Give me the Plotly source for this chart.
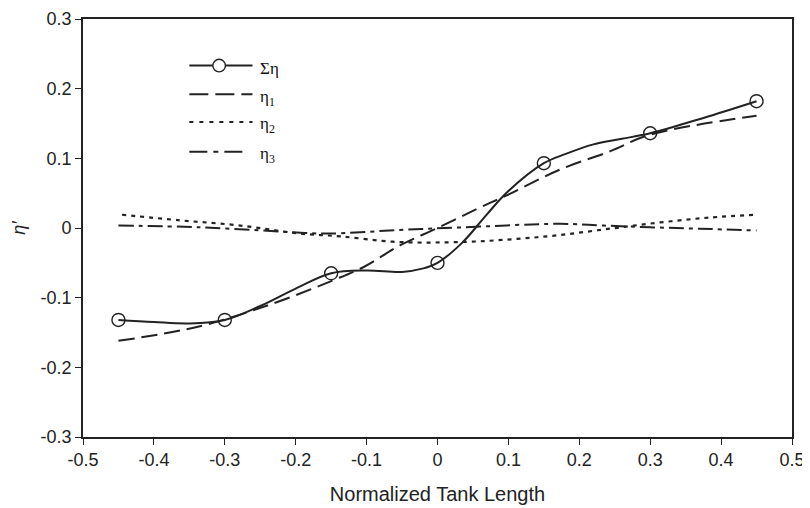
import plotly.graph_objects as go

# ---- data ----
sum_x = [-0.45, -0.40, -0.35, -0.30, -0.25, -0.20, -0.15, -0.10, -0.05, -0.02, 0.0,
         0.035, 0.07, 0.10, 0.15, 0.18, 0.22, 0.26, 0.30, 0.375, 0.45]
sum_y = [-0.132, -0.135, -0.137, -0.132, -0.112, -0.087, -0.065, -0.061, -0.063, -0.058, -0.050,
         -0.021, 0.020, 0.053, 0.093, 0.106, 0.120, 0.128, 0.136, 0.158, 0.182]
mark_x = [-0.45, -0.30, -0.15, 0.0, 0.15, 0.30, 0.45]
mark_y = [-0.132, -0.132, -0.065, -0.050, 0.093, 0.136, 0.182]

eta1_x = [-0.45, -0.335, -0.231, -0.147, -0.104, -0.053, 0.0, 0.055, 0.102, 0.173, 0.243, 0.30, 0.45]
eta1_y = [-0.162, -0.141, -0.108, -0.075, -0.056, -0.025, 0.0, 0.027, 0.049, 0.084, 0.110, 0.134, 0.161]

eta2_x = [-0.445, -0.363, -0.278, -0.194, -0.137, -0.057, 0.0365, 0.107, 0.173, 0.243, 0.314, 0.384, 0.45]
eta2_y = [0.019, 0.011, 0.0035, -0.008, -0.012, -0.020, -0.020, -0.016, -0.010, -0.001, 0.008, 0.015, 0.019]

eta3_x = [-0.45, -0.335, -0.222, -0.156, -0.057, 0.0365, 0.173, 0.234, 0.30, 0.37, 0.45]
eta3_y = [0.0035, 0.001, -0.005, -0.008, -0.003, 0.001, 0.006, 0.0035, 0.001, -0.001, -0.0036]

x_ticks = [-0.5, -0.4, -0.3, -0.2, -0.1, 0, 0.1, 0.2, 0.3, 0.4, 0.5]
x_tick_text = ["-0.5", "-0.4", "-0.3", "-0.2", "-0.1", "0", "0.1", "0.2", "0.3", "0.4", "0.5"]
y_ticks = [-0.3, -0.2, -0.1, 0, 0.1, 0.2, 0.3]
y_tick_text = ["-0.3", "-0.2", "-0.1", "0", "0.1", "0.2", "0.3"]

legend_names = ["Ση", "η<sub>1</sub>", "η<sub>2</sub>", "η<sub>3</sub>"]

INK = "#222222"
D1 = "16px,7px"
D2 = "4px,5px"
D3 = "15px,5px,4px,5px"

fig = go.Figure()
fig.add_trace(go.Scatter(x=eta1_x, y=eta1_y, mode="lines", name="η1",
                         line=dict(color=INK, width=2, dash=D1, shape="spline")))
fig.add_trace(go.Scatter(x=eta2_x, y=eta2_y, mode="lines", name="η2",
                         line=dict(color=INK, width=2.2, dash=D2, shape="spline")))
fig.add_trace(go.Scatter(x=eta3_x, y=eta3_y, mode="lines", name="η3",
                         line=dict(color=INK, width=2, dash=D3, shape="spline")))
fig.add_trace(go.Scatter(x=sum_x, y=sum_y, mode="lines", name="Ση",
                         line=dict(color=INK, width=2, shape="spline")))
fig.add_trace(go.Scatter(x=mark_x, y=mark_y, mode="markers", name="Ση markers",
                         marker=dict(symbol="circle-open", size=13, color=INK,
                                     line=dict(width=1.4, color=INK))))

# ---- manual legend (long line samples like the reference) ----
leg_x0, leg_x1, leg_txt = 0.150, 0.239, 0.247
leg_y = [0.8885, 0.8198, 0.7534, 0.6823]
leg_dash = ["solid", "19px,7px", "4px,6px", "18px,6px,5px,6px"]
for i, name in enumerate(legend_names):
    x1 = leg_x1 if i < 3 else 0.232
    fig.add_shape(type="line", xref="paper", yref="paper",
                  x0=leg_x0, x1=x1, y0=leg_y[i], y1=leg_y[i],
                  line=dict(color=INK, width=2, dash=leg_dash[i]))
    fig.add_annotation(xref="paper", yref="paper", x=leg_txt, y=leg_y[i] - 0.008,
                       text=name, showarrow=False, xanchor="left", yanchor="middle",
                       font=dict(family="Liberation Serif", size=17, color="#111111"))
# legend marker circle for Ση
cx, cy, r = 0.192, leg_y[0], 6.3
fig.add_shape(type="circle", xref="paper", yref="paper",
              x0=-r, y0=-r, x1=r, y1=r, xsizemode="pixel", ysizemode="pixel",
              xanchor=cx, yanchor=cy,
              line=dict(color=INK, width=1.4), fillcolor="white", layer="above")

axis_common = dict(showline=True, mirror=True, linecolor=INK, linewidth=1.6,
                   ticks="outside", ticklen=6, tickwidth=1.2, tickcolor=INK,
                   showgrid=False, zeroline=False, automargin=False,
                   ticklabeloverflow="allow",
                   tickfont=dict(family="Liberation Sans", size=18, color=INK))

# the page body adds an 8px offset; sizes/margins compensate for it
fig.update_layout(
    template="none",
    width=802, height=500,
    margin=dict(l=75, r=18, t=11, b=71, autoexpand=False),
    paper_bgcolor="white", plot_bgcolor="white",
    showlegend=False,
    xaxis=dict(range=[-0.5, 0.5], tickvals=x_ticks, ticktext=x_tick_text,
               title=dict(text="Normalized Tank Length", standoff=18,
                          font=dict(family="Liberation Sans", size=20, color=INK)),
               **axis_common),
    yaxis=dict(range=[-0.3, 0.3], tickvals=y_ticks, ticktext=y_tick_text,
               title=dict(text="<i>η′</i>", standoff=10,
                          font=dict(family="Liberation Sans", size=18, color=INK)),
               **axis_common),
)

fig.write_html("out.html")
